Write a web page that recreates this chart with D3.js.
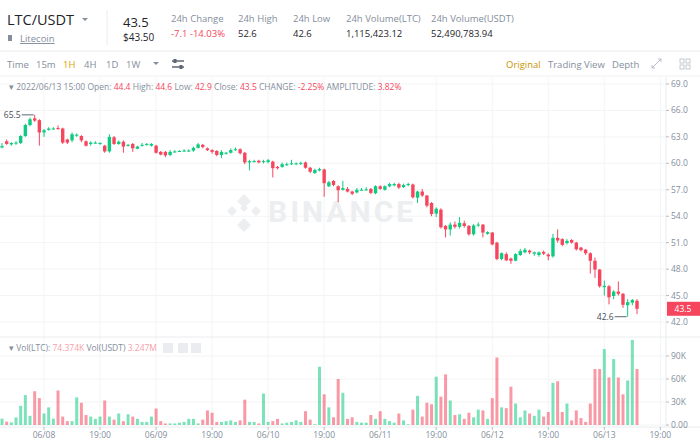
<!DOCTYPE html>
<html><head><meta charset="utf-8">
<script src="https://cdn.jsdelivr.net/npm/d3@7"></script>
<style>body{margin:0;background:#fff;font-family:"Open Sans",Roboto,sans-serif}</style>
</head><body><svg id="c" width="700" height="443"></svg>
<script>
const opens=[61.8,62.5,62.15,62.25,62.3,63.1,64.35,65.1,64.9,63.5,63.8,63.9,64.0,63.95,62.7,62.6,63.2,63.1,62.5,62.2,62.3,62.25,62.0,61.35,62.95,62.2,62.45,62.0,62.2,61.65,62.0,62.1,62.0,62.0,61.3,61.3,60.95,61.3,61.35,61.4,61.4,61.45,61.75,62.1,61.7,61.5,61.4,60.95,61.1,61.2,61.5,61.6,61.2,60.1,60.2,60.3,60.15,60.15,60.2,59.6,59.6,59.8,59.9,59.95,59.95,60.1,59.5,58.9,59.2,59.3,
57.4,58.0,57.4,57.0,57.1,56.8,56.7,57.0,57.0,57.1,56.6,57.4,57.0,57.4,57.5,57.65,57.3,57.55,57.6,56.1,56.8,56.35,55.5,54.3,54.75,52.9,52.5,53.05,52.8,53.2,52.9,51.95,52.95,53.05,52.0,52.15,51.0,49.15,49.7,49.2,48.95,49.6,49.9,50.1,49.75,49.6,49.95,49.65,49.45,51.55,51.4,50.95,51.3,51.0,50.45,50.2,49.8,48.95,47.95,45.95,46.05,44.95,45.45,45.2,43.9,44.2,44.4];
const closes=[61.95,62.2,62.3,62.35,63.1,64.35,65.0,64.85,63.5,63.75,63.95,63.95,63.95,62.35,62.35,63.3,63.25,62.6,62.0,62.35,62.35,62.3,61.35,63.0,62.2,62.45,61.9,62.1,61.7,61.9,62.1,62.2,62.2,61.2,61.0,60.9,61.3,61.35,61.4,61.45,61.45,61.75,62.15,61.85,61.5,61.3,60.95,61.3,61.2,61.5,61.6,61.15,60.1,60.25,60.25,60.1,60.25,60.35,59.45,59.45,59.9,59.9,60.0,60.0,60.05,59.5,59.05,59.25,59.35,57.75,
57.85,57.55,56.95,57.2,56.8,56.55,57.0,57.0,57.05,56.65,57.4,57.1,57.4,57.65,57.65,57.25,57.55,57.65,56.15,56.8,56.35,55.2,54.25,54.85,52.75,52.5,53.05,52.8,53.25,52.9,51.95,52.95,53.05,52.15,52.2,50.8,49.15,49.8,49.0,48.95,49.7,50.05,50.2,49.9,49.9,49.9,49.75,49.45,51.55,51.25,50.75,51.2,51.0,50.25,50.15,49.8,48.95,47.95,46.05,46.1,44.8,45.45,45.2,43.95,44.25,44.5,43.5];
const highs=[62.3,62.7,62.4,62.5,63.2,64.5,65.2,65.5,65.0,63.9,64.1,64.1,64.3,64.05,62.8,63.5,63.4,63.2,62.6,62.5,62.5,62.4,62.1,63.3,63.1,62.6,62.6,62.2,62.3,62.0,62.3,62.3,62.3,62.1,61.4,61.4,61.5,61.5,61.5,61.6,61.6,61.9,62.3,62.2,61.8,61.6,61.5,61.5,61.3,61.7,61.8,61.7,61.3,60.4,60.4,60.4,60.4,60.5,60.3,59.7,60.1,60.1,60.4,60.1,60.2,60.2,59.6,59.4,59.5,59.4,
58.0,58.1,57.5,58.0,57.3,56.9,57.2,57.2,57.3,57.2,57.5,57.5,57.5,57.8,57.8,57.8,57.7,57.8,57.7,56.9,57.1,56.4,55.6,55.0,54.9,53.0,53.3,53.4,53.9,53.5,53.0,53.1,53.3,53.1,52.3,52.2,51.1,49.9,49.9,49.3,49.8,50.3,50.4,50.2,50.0,50.0,50.1,49.8,52.0,52.5,51.5,51.4,51.4,51.1,50.5,50.3,49.9,49.3,48.0,46.7,46.2,45.6,46.6,45.3,44.6,44.6,44.6];
const lows=[61.7,62.1,62.0,62.1,62.2,63.0,64.2,64.7,62.0,63.0,63.7,63.8,63.8,62.2,62.2,62.4,63.0,62.4,61.9,62.0,62.2,62.1,61.2,61.2,62.1,62.1,61.2,61.9,61.3,61.6,61.9,62.0,61.9,61.1,60.9,60.7,60.8,61.2,61.3,61.3,61.3,61.3,61.7,61.7,61.4,61.1,60.8,60.6,61.0,61.1,61.4,61.0,59.9,59.2,60.1,60.0,60.0,60.0,58.4,59.3,59.5,59.7,59.8,59.8,59.8,59.4,58.9,58.8,59.1,56.2,
57.3,57.4,55.6,56.9,56.7,56.4,56.6,56.9,56.9,56.5,56.5,57.0,56.9,57.3,57.4,57.1,57.2,57.4,56.0,55.5,56.2,55.0,54.0,53.9,52.6,51.6,51.8,52.6,52.6,52.7,51.8,51.8,52.8,51.6,51.9,50.7,49.0,49.0,48.9,48.6,48.9,49.5,49.8,49.7,49.5,49.4,49.6,49.0,49.3,51.0,50.6,50.8,50.9,50.1,50.0,49.6,47.5,47.0,45.9,45.0,44.0,44.6,45.0,43.6,42.6,43.9,42.9];
const volumes=[8.3,4.4,3.4,9.8,25,39,12,44,35,15,23,8.3,45,11,5,5,36,29,13,11,8,11,32,11,7,15,5,14,11,8,4,4,11,21.5,5,2,2,2,3,4,8,8,2,7,19,16,4,4,5,6,4,6,33,4,4,2,41,4,5,8,2,3,4,6,4,18,7,1,76,40,23,10,60,42,8,10,4,3,3,13,8,18,8,5,3,15,6,1,20,38,11,29,27,63,37,66,32,13,14,8,16,10,20,19,8,35,88,23,22,50,28,10,19,15,12,20,11,17,55,57,17,28,6,19,9,4,28,73,73,99,62,86,62,40,58,111,73];
const priceTicks=[69,66,63,60,57,54,51,48,45,42];
const volTicks=[0,30,60,90];
const timeLabels=["06/08","19:00","06/09","19:00","06/10","19:00","06/11","19:00","06/12","19:00","06/13","19:00"];
const timeIdx=[9,21,33,45,57,69,81,93,105,117,129,141];

const G="#0ecb81",R="#f6465d",GRAY="#848e9c",DARK="#1e2329";
const svg=d3.select("#c");
const x=d3.scaleLinear().domain([0,136]).range([2,637]);
const y=d3.scaleLinear().domain([42,69]).range([322,84]);
const vy=d3.scaleLinear().domain([0,90]).range([425,356]);
const txt=(t,X,Y,o={})=>svg.append("text").attr("x",X).attr("y",Y).text(t)
  .attr("font-size",o.s||10).attr("fill",o.c||GRAY).attr("text-anchor",o.a||"start")
  .attr("font-weight",o.w||400).attr("font-family",'"Open Sans",sans-serif');

// header
txt("LTC/USDT",7,25,{s:14.5,c:DARK,w:500});
svg.append("path").attr("d","M82 18 l6 0 l-3 3z").attr("fill",GRAY);
svg.append("rect").attr("x",8).attr("y",35).attr("width",4).attr("height",6).attr("fill",GRAY);
txt("Litecoin",20,42,{s:9.5}).attr("text-decoration","underline");
svg.append("line").attr("x1",107).attr("x2",107).attr("y1",10).attr("y2",45).attr("stroke","#eaecef");
txt("43.5",123,27,{s:13,c:DARK});
txt("$43.50",123,41,{s:10,c:DARK});
[["24h Change",171,"-7.1 -14.03%",R],["24h High",238,"52.6",DARK],["24h Low",293,"42.6",DARK],["24h Volume(LTC)",346,"1,115,423.12",DARK],["24h Volume(USDT)",431,"52,490,783.94",DARK]].forEach(d=>{
  txt(d[0],d[1],22,{s:9.5});txt(d[2],d[1],37,{s:9.5,c:d[3]});});
svg.append("line").attr("x1",0).attr("x2",700).attr("y1",51).attr("y2",51).attr("stroke","#eaecef");
// toolbar
[["Time",7],["15m",36],["1H",63],["4H",84],["1D",106],["1W",126]].forEach(d=>txt(d[0],d[1],68,{s:9.5,c:d[0]=="1H"?"#e0a400":GRAY}));
svg.append("path").attr("d","M153 62 l6 0 l-3 3z").attr("fill",GRAY);
[61,67].forEach(yy=>svg.append("line").attr("x1",172).attr("x2",184).attr("y1",yy).attr("y2",yy).attr("stroke","#5e6673").attr("stroke-width",1.5));
[[175,61],[181,67]].forEach(p=>svg.append("rect").attr("x",p[0]-1.5).attr("y",p[1]-2).attr("width",3).attr("height",4).attr("fill","#5e6673"));
txt("Original",506,68,{s:9.5,c:"#c99400"});txt("Trading View",548,68,{s:9.5});txt("Depth",612,68,{s:9.5});
svg.append("path").attr("d","M652 68 l9 -9 M652 68 l0 -3 M652 68 l3 0 M661 59 l-3 0 M661 59 l0 3").attr("stroke","#b7bdc6").attr("fill","none");
[[680,59],[686,59],[680,65],[686,65]].forEach(p=>svg.append("rect").attr("x",p[0]).attr("y",p[1]).attr("width",4).attr("height",4).attr("fill","none").attr("stroke","#b7bdc6").attr("stroke-width",0.8));
svg.append("line").attr("x1",0).attr("x2",700).attr("y1",76).attr("y2",76).attr("stroke","#f0f1f2");

// grid
const gx=timeIdx.map(i=>x(i));
gx.forEach(X=>svg.append("line").attr("x1",X).attr("x2",X).attr("y1",77).attr("y2",427).attr("stroke","#f3f4f5"));
priceTicks.forEach(v=>svg.append("line").attr("x1",0).attr("x2",665).attr("y1",y(v)).attr("y2",y(v)).attr("stroke","#f3f4f5"));
volTicks.forEach(v=>svg.append("line").attr("x1",0).attr("x2",665).attr("y1",vy(v)).attr("y2",vy(v)).attr("stroke","#f3f4f5"));
svg.append("line").attr("x1",666).attr("x2",666).attr("y1",77).attr("y2",427).attr("stroke","#eaecef");
svg.append("line").attr("x1",0).attr("x2",700).attr("y1",337).attr("y2",337).attr("stroke","#eaecef");
svg.append("line").attr("x1",0).attr("x2",700).attr("y1",427).attr("y2",427).attr("stroke","#eaecef");

// watermark
const wm=svg.append("g").attr("fill","#eceef0");
wm.append("path").attr("d","M244 196 l7 7 l-7 7 l-7 -7z M232 208 l5 5 l-5 5 l-5 -5z M256 208 l5 5 l-5 5 l-5 -5z M244 220 l7 7 l-7 7 l-7 -7z M244 206 l4 4 l-4 4 l-4 -4z").attr("transform","translate(0,-2)");
wm.append("text").attr("x",268).attr("y",222).text("BINANCE").attr("font-size",30).attr("font-weight",700).attr("font-family","Roboto,sans-serif").attr("letter-spacing",3);

// info line
const info=svg.append("text").attr("x",9).attr("y",90).attr("font-size",8.5).attr("font-family",'"Open Sans",sans-serif').attr("fill",GRAY);
[["▾ 2022/06/13 15:00 Open: ",GRAY],["44.4",R],[" High: ",GRAY],["44.6",R],[" Low: ",GRAY],["42.9",R],[" Close: ",GRAY],["43.5",R],[" CHANGE: ",GRAY],["-2.25%",R],[" AMPLITUDE: ",GRAY],["3.82%",R]].forEach(s=>info.append("tspan").text(s[0]).attr("fill",s[1]));

// price axis
priceTicks.forEach(v=>{svg.append("line").attr("x1",666).attr("x2",669).attr("y1",y(v)).attr("y2",y(v)).attr("stroke","#b7bdc6");
  txt(v.toFixed(1),671,y(v)+3,{s:8.5});});

// candles
const idx=d3.range(closes.length);
svg.append("g").selectAll("line").data(idx).join("line")
 .attr("x1",i=>x(i)).attr("x2",i=>x(i)).attr("y1",i=>y(highs[i])).attr("y2",i=>y(lows[i]))
 .attr("stroke",i=>closes[i]>=opens[i]?G:R).attr("stroke-width",1);
svg.append("g").selectAll("rect").data(idx).join("rect")
 .attr("x",i=>x(i)-1.7).attr("width",3.4)
 .attr("y",i=>y(Math.max(opens[i],closes[i])))
 .attr("height",i=>Math.max(1,Math.abs(y(opens[i])-y(closes[i]))))
 .attr("fill",i=>closes[i]>=opens[i]?G:R);

// max/min markers
const iMax=d3.maxIndex(highs),iMin=d3.minIndex(lows);
svg.append("line").attr("x1",x(iMax)-13).attr("x2",x(iMax)-1).attr("y1",y(highs[iMax])).attr("y2",y(highs[iMax])).attr("stroke","#5e6673");
txt(highs[iMax].toFixed(1),x(iMax)-14,y(highs[iMax])+3,{s:8.5,c:"#474d57",a:"end"});
svg.append("line").attr("x1",x(iMin)-13).attr("x2",x(iMin)-1).attr("y1",y(lows[iMin])).attr("y2",y(lows[iMin])).attr("stroke","#5e6673");
txt(lows[iMin].toFixed(1),x(iMin)-14,y(lows[iMin])+3,{s:8.5,c:"#474d57",a:"end"});

// last price tag
const lp=closes[closes.length-1];
svg.append("rect").attr("x",667).attr("y",y(lp)-7).attr("width",33).attr("height",14).attr("fill",R);
txt(lp.toFixed(1),683,y(lp)+3,{s:8.5,c:"#fff",a:"middle"});

// volume
svg.append("g").selectAll("rect").data(idx).join("rect")
 .attr("x",i=>x(i)-1.5).attr("width",3)
 .attr("y",i=>vy(volumes[i])).attr("height",i=>vy(0)-vy(volumes[i]))
 .attr("fill",i=>closes[i]>=opens[i]?G:R).attr("opacity",0.55);
volTicks.forEach(v=>{svg.append("line").attr("x1",666).attr("x2",669).attr("y1",vy(v)).attr("y2",vy(v)).attr("stroke","#b7bdc6");
  txt(v===0?"0.00":v+"K",671,vy(v)+3,{s:8.5});});
const vl=svg.append("text").attr("x",9).attr("y",351).attr("font-size",8.5).attr("font-family",'"Open Sans",sans-serif');
[["▾ Vol(LTC): ",GRAY],["74.374K","#f6a0aa"],[" Vol(USDT) ",GRAY],["3.247M","#f6a0aa"]].forEach(s=>vl.append("tspan").text(s[0]).attr("fill",s[1]));
[163,178,191].forEach(X=>svg.append("rect").attr("x",X).attr("y",343).attr("width",10).attr("height",10).attr("fill","#eaecef"));

// time axis
timeLabels.forEach((t,k)=>{const X=x(timeIdx[k]);
  svg.append("line").attr("x1",X).attr("x2",X).attr("y1",427).attr("y2",430).attr("stroke","#b7bdc6");
  txt(t,X,438,{s:8.5,a:"middle"});});
</script></body></html>
